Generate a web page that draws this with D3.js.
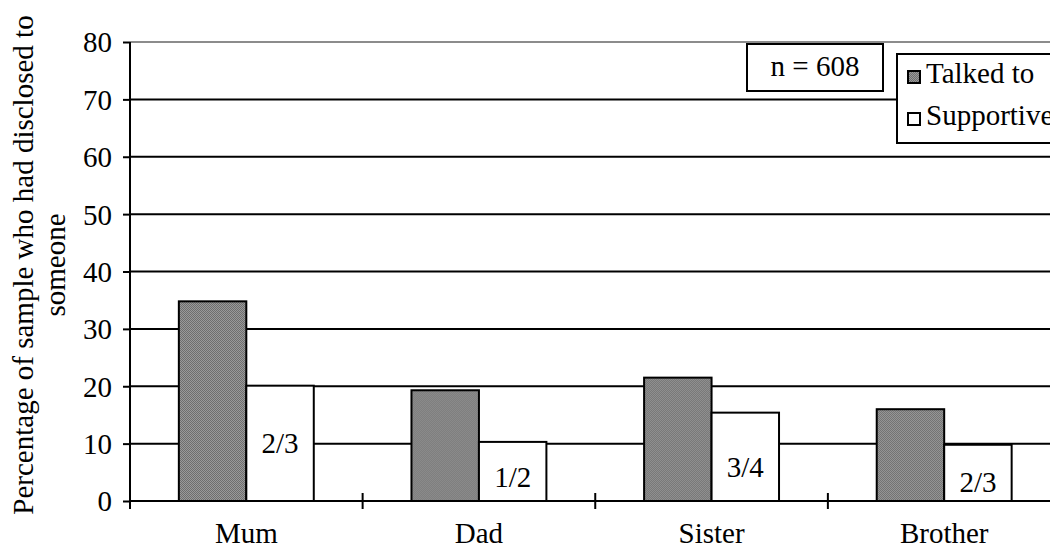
<!DOCTYPE html>
<html><head><meta charset="utf-8">
<script src="https://cdn.jsdelivr.net/npm/d3@7"></script>
<style>body{margin:0;background:#fff}svg{display:block}</style>
</head><body><svg id="c" width="1050" height="550"></svg>
<script>
const categories = ["Mum", "Dad", "Sister", "Brother"];
const series = ["Talked to", "Supportive"];
const talkedTo = [34.8, 19.3, 21.5, 16.0];
const supportive = [20.1, 10.3, 15.4, 9.8];
const fractionLabels = ["2/3", "1/2", "3/4", "2/3"];
const fractionLabelAt = [8.4, 2.45, 4.2, 1.6];
const yTicks = [0, 10, 20, 30, 40, 50, 60, 70, 80];
const sampleNote = "n = 608";
const yTitle = ["Percentage of sample who had disclosed to", "someone"];

const FONT = "'Liberation Serif', Tinos, 'Times New Roman', Times, 'DejaVu Serif', 'Noto Serif', serif";
const FS = 29;
const svg = d3.select("#c");
const defs = svg.append("defs");
const pat = defs.append("pattern").attr("id","dots").attr("patternUnits","userSpaceOnUse").attr("width",2).attr("height",2);
pat.append("rect").attr("width",2).attr("height",2).attr("fill","#9a9a9a");
pat.append("rect").attr("width",1).attr("height",1).attr("fill","#6e6e6e");
pat.append("rect").attr("x",1).attr("y",1).attr("width",1).attr("height",1).attr("fill","#6e6e6e");

const L = 130, R = 1060.5, T = 42, B = 501;
const y = d3.scaleLinear().domain([0, 80]).range([B, T]);
const x = d3.scaleBand().domain(categories).range([L, R]).padding(0);
const bw = x.bandwidth();
const x1 = d3.scaleBand().domain(series).range([bw*0.21, bw*0.79]).padding(0);

// gridlines
svg.append("g").selectAll("line").data(yTicks.filter(d=>d>0)).join("line")
  .attr("x1", L).attr("x2", 1050).attr("y1", d=>y(d)).attr("y2", d=>y(d))
  .attr("stroke", d=>d===80?"#8c8c8c":"#000").attr("stroke-width",2);

// bars
const rows = categories.map((c,i)=>({c, vals:[talkedTo[i], supportive[i]], lab:fractionLabels[i], labAt:fractionLabelAt[i]}));
const g = svg.append("g").selectAll("g").data(rows).join("g").attr("transform", d=>`translate(${x(d.c)},0)`);
g.selectAll("rect").data(d=>d.vals.map((v,j)=>({s:series[j], v}))).join("rect")
  .attr("x", d=>x1(d.s)).attr("width", x1.bandwidth())
  .attr("y", d=>y(d.v)).attr("height", d=>y(0)-y(d.v))
  .attr("fill", d=>d.s==="Talked to"?"url(#dots)":"#fff")
  .attr("stroke","#000").attr("stroke-width",2);
g.append("text").attr("x", x1("Supportive")+x1.bandwidth()/2).attr("y", d=>y(d.labAt))
  .attr("text-anchor","middle").attr("font-family",FONT).attr("font-size",FS).text(d=>d.lab);

// y axis
const yAxis = svg.append("g").attr("transform",`translate(${L},0)`)
  .call(d3.axisLeft(y).tickValues(yTicks).tickSize(7).tickPadding(11));
yAxis.select(".domain").attr("stroke","#000").attr("stroke-width",2).attr("d",`M0,${T}V${B}`);
yAxis.selectAll(".tick line").attr("stroke","#000").attr("stroke-width",2);
yAxis.selectAll(".tick text").attr("font-size",FS).attr("font-family",FONT).attr("fill","#000").attr("dy","0.34em");
yAxis.attr("font-family",FONT);

// x axis
const xAxis = svg.append("g").attr("transform",`translate(0,${B})`);
xAxis.append("line").attr("x1",L).attr("x2",1050).attr("y1",0).attr("y2",0).attr("stroke","#000").attr("stroke-width",2);
const bounds = categories.map(c=>x(c)).concat([R]);
xAxis.selectAll(".bt").data(bounds).join("line").attr("class","bt")
  .attr("x1",d=>d).attr("x2",d=>d).attr("y1",-8).attr("y2",8).attr("stroke","#000").attr("stroke-width",2);
xAxis.selectAll(".cl").data(categories).join("text").attr("class","cl")
  .attr("x", d=>x(d)+bw/2).attr("y", 42).attr("text-anchor","middle").attr("font-family",FONT).attr("font-size",FS).text(d=>d);

// y title
const yt = svg.append("text").attr("transform","translate(33,265) rotate(-90)").attr("text-anchor","middle").attr("font-family",FONT).attr("font-size",FS);
yTitle.forEach((t,i)=>yt.append("tspan").attr("x",0).attr("dy", i===0?0:32).text(t));

// n note
svg.append("rect").attr("x",747).attr("y",44).attr("width",136).attr("height",47).attr("fill","#fff").attr("stroke","#000").attr("stroke-width",2);
svg.append("text").attr("x",815).attr("y",76).attr("text-anchor","middle").attr("font-family",FONT).attr("font-size",FS).text(sampleNote);

// legend
const lg = svg.append("g").attr("transform","translate(897,54)");
lg.append("rect").attr("x",0).attr("y",0).attr("width",200).attr("height",89).attr("fill","#fff").attr("stroke","#000").attr("stroke-width",2);
series.forEach((s,i)=>{
  const base = 29 + i*42;
  lg.append("rect").attr("x",11).attr("y",base-12).attr("width",12).attr("height",12)
    .attr("fill", i===0?"url(#dots)":"#fff").attr("stroke","#000").attr("stroke-width",2);
  lg.append("text").attr("x",29).attr("y",base).attr("font-family",FONT).attr("font-size",FS).text(s);
});
</script></body></html>
